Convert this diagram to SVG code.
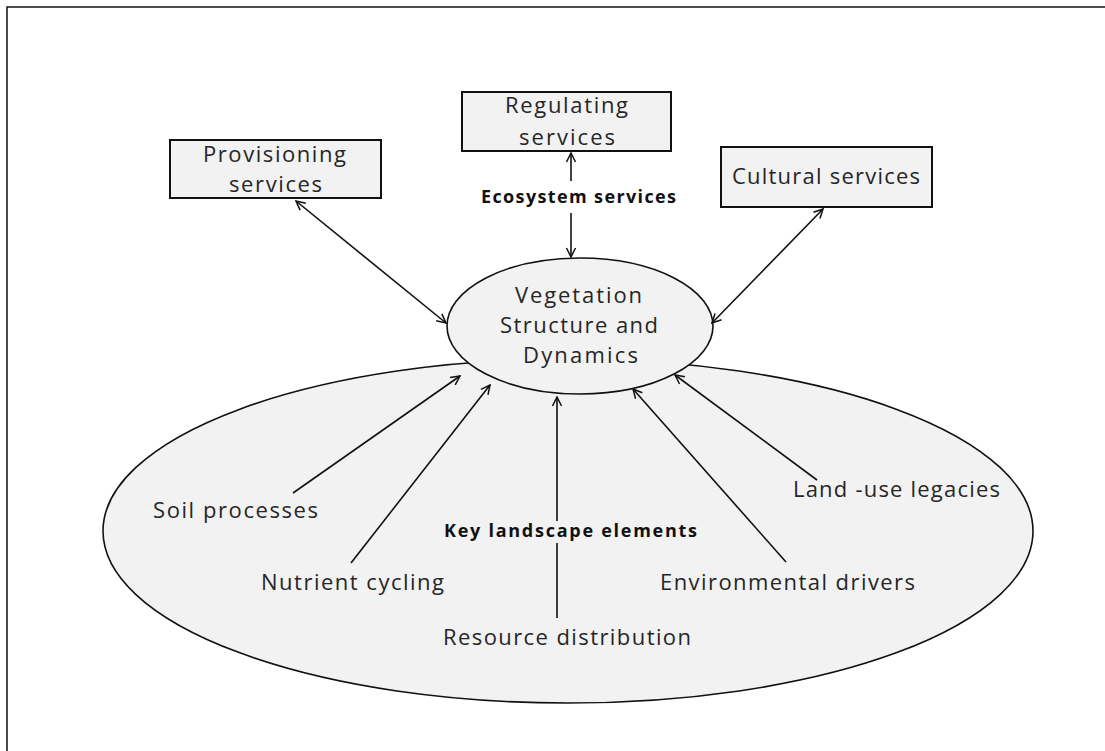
<svg xmlns="http://www.w3.org/2000/svg" width="1105" height="751" viewBox="0 0 1105 751">
<defs>
<style>
.t{font-family:"Open Sans","Liberation Sans",sans-serif;font-size:22px;fill:#262626}
.b{font-family:"Open Sans","Liberation Sans",sans-serif;font-size:18px;font-weight:bold;fill:#111}
.box{fill:#f2f2f2;stroke:#111;stroke-width:2}
.ell{fill:#f2f2f2;stroke:#111;stroke-width:1.6}
.c{fill:none;stroke:#111;stroke-width:1.6}
</style>
<marker id="arr" viewBox="0 0 12 12" refX="11" refY="6" markerWidth="12" markerHeight="12" markerUnits="userSpaceOnUse" orient="auto-start-reverse">
<path d="M2,1.5 L11,6 L2,10.5" fill="none" stroke="#111" stroke-width="1.5"/>
</marker>
</defs>
<rect x="0" y="0" width="1105" height="751" fill="#fff"/>
<path d="M7,751 V7 H1105" fill="none" stroke="#111" stroke-width="1.5"/>

<g id="landscape">
<ellipse class="ell" cx="568" cy="531" rx="465" ry="172"/>
<text class="b" x="444" y="537" textLength="253" lengthAdjust="spacing">Key landscape elements</text>
</g>

<g id="vegetation">
<ellipse class="ell" cx="580" cy="326" rx="133" ry="68"/>
<text class="t" x="515" y="303" textLength="127" lengthAdjust="spacing">Vegetation</text>
<text class="t" x="500" y="333" textLength="158" lengthAdjust="spacing">Structure and</text>
<text class="t" x="523" y="363" textLength="115" lengthAdjust="spacing">Dynamics</text>
</g>

<g id="provisioning">
<rect class="box" x="170" y="140" width="211" height="58"/>
<text class="t" x="203" y="162" textLength="143" lengthAdjust="spacing">Provisioning</text>
<text class="t" x="229" y="192" textLength="93" lengthAdjust="spacing">services</text>
</g>

<g id="regulating">
<rect class="box" x="462" y="92" width="209" height="59"/>
<text class="t" x="505" y="113" textLength="123" lengthAdjust="spacing">Regulating</text>
<text class="t" x="519" y="145" textLength="96" lengthAdjust="spacing">services</text>
</g>

<g id="cultural">
<rect class="box" x="721" y="147" width="211" height="60"/>
<text class="t" x="732" y="184" textLength="188" lengthAdjust="spacing">Cultural services</text>
</g>

<g id="ecosystem-label">
<text class="b" x="481" y="203" textLength="195" lengthAdjust="spacing">Ecosystem services</text>
</g>

<g id="soil"><text class="t" x="153" y="518" textLength="165" lengthAdjust="spacing">Soil processes</text></g>
<g id="nutrient"><text class="t" x="261" y="590" textLength="183" lengthAdjust="spacing">Nutrient cycling</text></g>
<g id="resource"><text class="t" x="443" y="645" textLength="248" lengthAdjust="spacing">Resource distribution</text></g>
<g id="environmental"><text class="t" x="660" y="590" textLength="255" lengthAdjust="spacing">Environmental drivers</text></g>
<g id="landuse"><text class="t" x="793" y="497" textLength="207" lengthAdjust="spacing">Land -use legacies</text></g>

<g id="connectors">
<line class="c" x1="296" y1="201" x2="446" y2="323" marker-start="url(#arr)" marker-end="url(#arr)"/>
<line class="c" x1="823" y1="209" x2="712" y2="323" marker-start="url(#arr)" marker-end="url(#arr)"/>
<line class="c" x1="571" y1="181" x2="571" y2="153" marker-end="url(#arr)"/>
<line class="c" x1="571" y1="213" x2="571" y2="257" marker-end="url(#arr)"/>
<line class="c" x1="293" y1="493" x2="460" y2="376" marker-end="url(#arr)"/>
<line class="c" x1="351" y1="563" x2="490" y2="385" marker-end="url(#arr)"/>
<path class="c" d="M557,618 V543 M557,521 V397" marker-end="url(#arr)"/>
<line class="c" x1="786" y1="562" x2="633" y2="389" marker-end="url(#arr)"/>
<line class="c" x1="817" y1="480" x2="675" y2="375" marker-end="url(#arr)"/>
</g>
</svg>
